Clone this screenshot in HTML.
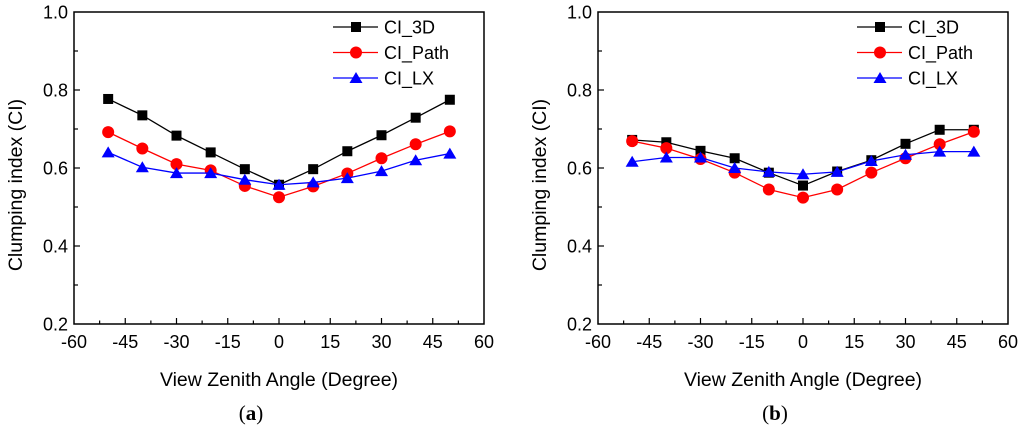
<!DOCTYPE html>
<html><head><meta charset="utf-8"><style>
body{margin:0;background:#fff;}
svg{display:block;font-family:"Liberation Sans",Arial,sans-serif;}
</style></head><body>
<svg id="chart" width="1024" height="430" viewBox="0 0 1024 430"></svg>
<script>
const angles=[-50,-40,-30,-20,-10,0,10,20,30,40,50];
const a3D=[0.777,0.735,0.683,0.640,0.597,0.557,0.597,0.643,0.684,0.729,0.775];
const aPath=[0.692,0.650,0.610,0.594,0.554,0.525,0.553,0.586,0.625,0.661,0.694];
const aLX=[0.640,0.602,0.587,0.587,0.570,0.557,0.563,0.574,0.592,0.620,0.637];
const b3D=[0.672,0.666,0.644,0.625,0.588,0.555,0.591,0.620,0.662,0.698,0.698];
const bPath=[0.669,0.651,0.623,0.588,0.545,0.524,0.545,0.588,0.625,0.661,0.693];
const bLX=[0.616,0.627,0.627,0.600,0.590,0.584,0.590,0.618,0.634,0.642,0.642];
const xTicks=[-60,-45,-30,-15,0,15,30,45,60];
const yTicks=[0.2,0.4,0.6,0.8,1.0];
const seriesNames=["CI_3D","CI_Path","CI_LX"];
const colors=["#000","#ff0000","#0000ff"];
const NS="http://www.w3.org/2000/svg";
const svg=document.getElementById('chart');
function el(tag,attrs,parent,text){const e=document.createElementNS(NS,tag);for(const k in attrs)e.setAttribute(k,attrs[k]);if(text!==undefined)e.textContent=text;(parent||svg).appendChild(e);return e;}
function marker(g,type,x,y,c){
  if(type===0)return el('rect',{x:x-5,y:y-5,width:10,height:10,fill:c},g);
  if(type===1)return el('circle',{cx:x,cy:y,r:6,fill:c},g);
  return el('polygon',{points:`${x},${y-6} ${x+6.5},${y+5} ${x-6.5},${y+5}`,fill:c},g);
}
function panel(ox,label,data,name){
  const L=ox+74,R=ox+484,T=12,B=324;
  const sx=v=>L+(v+60)/120*(R-L);
  const sy=v=>B-(v-0.2)/0.8*(B-T);
  const g=el('g',{});
  
  
  const frame=el('rect',{x:L,y:T,width:R-L,height:B-T,fill:'none',stroke:'#000','stroke-width':1.5},g);
  
  for(let k=1;k<16;k++){const v=-60+k*7.5;const x=sx(v);const major=(k%2===0);
    el('line',{x1:x,x2:x,y1:B,y2:B-(major?6:3.5),stroke:'#000','stroke-width':1.2},g);}
  for(let k=1;k<8;k++){const v=0.2+k*0.1;const y=sy(v);
    el('line',{x1:L,x2:L+(k%2===0?6:4),y1:y,y2:y,stroke:'#000','stroke-width':1.2},g);}
  xTicks.forEach(t=>{const tx=el('text',{x:sx(t),y:348,'text-anchor':'middle','font-size':18},g,String(t));
    });
  yTicks.forEach(t=>{const tx=el('text',{x:L-6,y:sy(t)+6.5,'text-anchor':'end','font-size':18},g,t.toFixed(1));
    });
  const xt=el('text',{x:(L+R)/2,y:386,'text-anchor':'middle','font-size':19.5},g,'View Zenith Angle (Degree)');
  
  const yt=el('text',{x:0,y:0,'text-anchor':'middle','font-size':19.5,transform:`translate(${ox+22},${(T+B)/2+17}) rotate(-90)`},g,'Clumping index (CI)');
  
  const pl=el('text',{x:(L+R)/2-28,y:420,'text-anchor':'middle','font-size':21,'font-family':'"Liberation Serif",serif'},g);
  
  el('tspan',{},pl,'(');el('tspan',{'font-weight':'bold'},pl,label);el('tspan',{},pl,')');
  data.forEach((vals,i)=>{
    const sg=el('g',{},g);
    
    
    el('polyline',{points:angles.map((a,j)=>sx(a)+','+sy(vals[j])).join(' '),fill:'none',stroke:colors[i],'stroke-width':1.3},sg);
    angles.forEach((a,j)=>{const m=marker(sg,i,sx(a),sy(vals[j]),colors[i]);
      });
    const ly=27+i*25.5;
    const lg=el('g',{},g);
    
    
    el('line',{x1:ox+333,x2:ox+378,y1:ly,y2:ly,stroke:colors[i],'stroke-width':1.3},lg);
    marker(lg,i,ox+356,ly,colors[i]);
    el('text',{x:ox+384,y:ly+6.5,'font-size':18},lg,seriesNames[i]);
  });
}
panel(0,'a',[a3D,aPath,aLX],'panel-a');
panel(524,'b',[b3D,bPath,bLX],'panel-b');
</script>
</body></html>
